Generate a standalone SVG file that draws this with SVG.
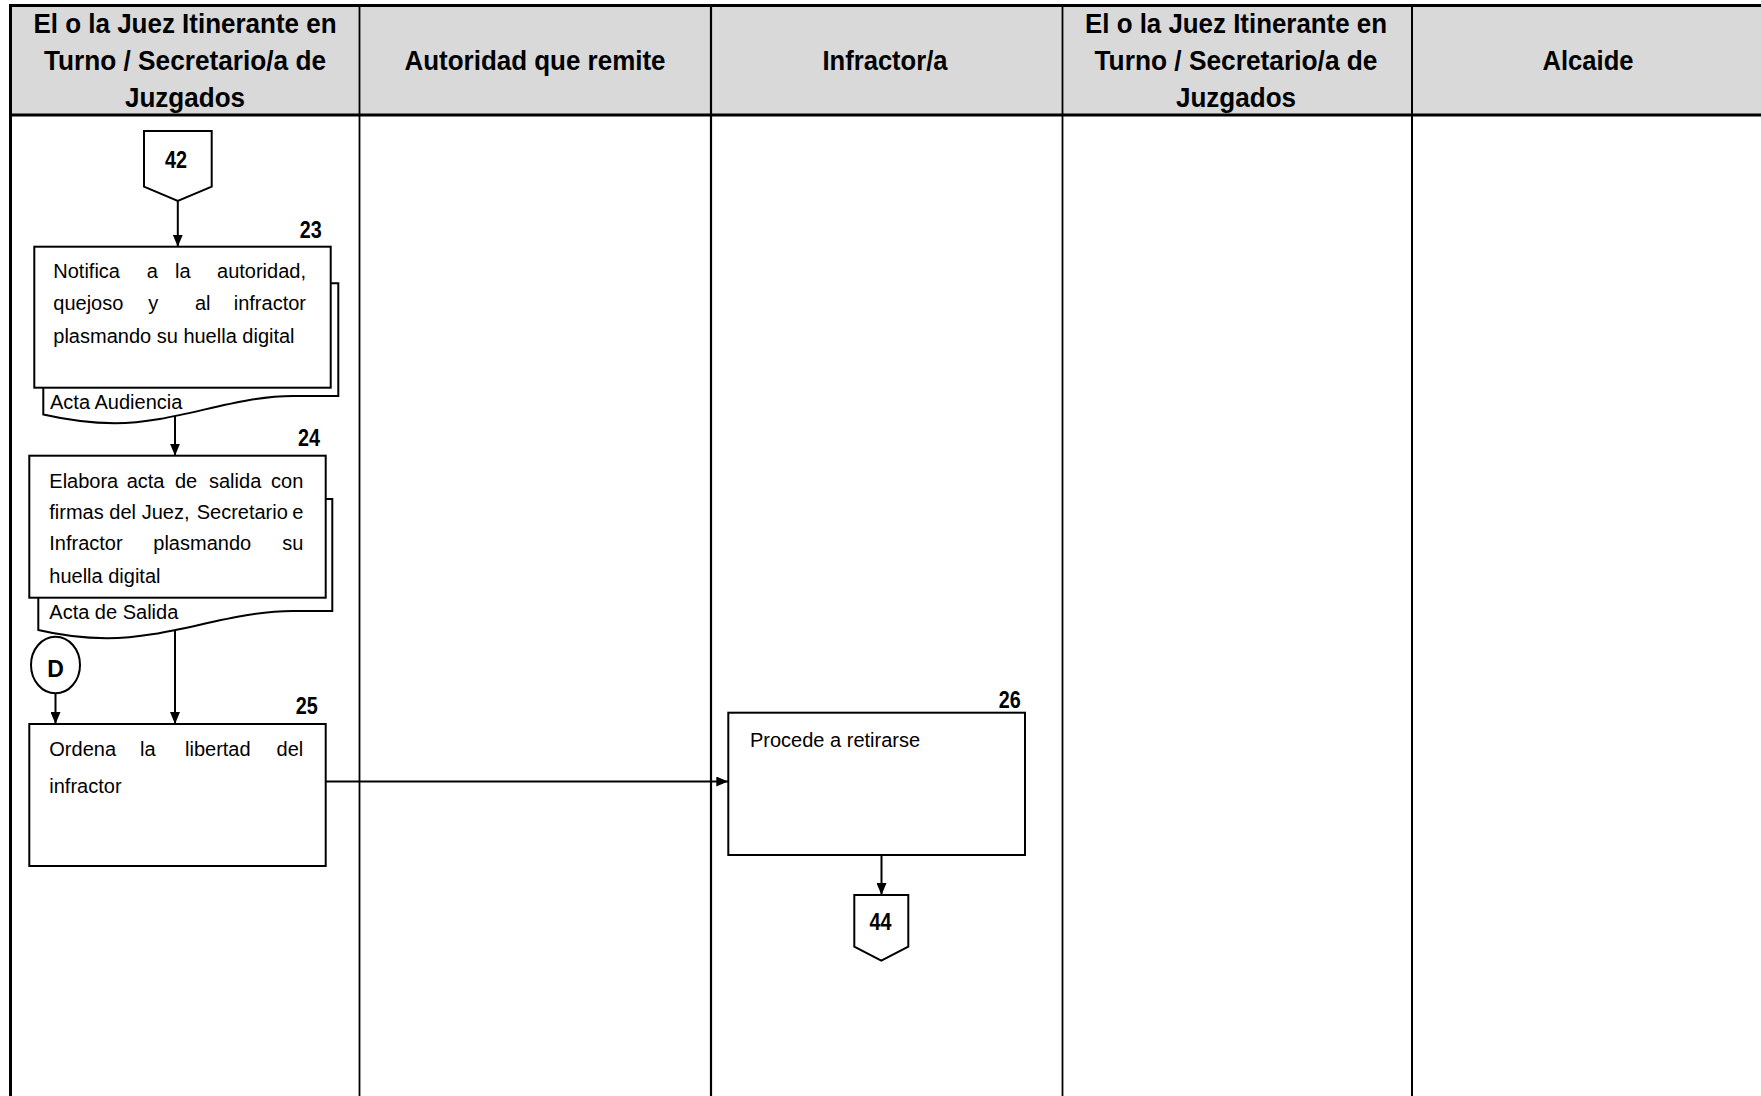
<svg xmlns="http://www.w3.org/2000/svg" width="1761" height="1096" viewBox="0 0 1761 1096">
<style>
.hd{font-family:"Liberation Sans",Arial,sans-serif;font-weight:bold;font-size:28px;fill:#000;text-anchor:middle}
.tx{font-family:"Liberation Sans",Arial,sans-serif;font-size:20px;fill:#000}
.num{font-family:"Liberation Sans",Arial,sans-serif;font-weight:bold;font-size:23px;fill:#000}
.box{fill:#fff;stroke:#000;stroke-width:2}
.lane{stroke:#000;fill:none}
.cn{stroke:#000;stroke-width:2;fill:none;marker-end:url(#ah)}
</style>
<defs>
<marker id="ah" markerUnits="userSpaceOnUse" markerWidth="12" markerHeight="10" refX="12" refY="5" orient="auto">
<path d="M0,0 L12,5 L0,10 Z" fill="#000"/>
</marker>
</defs>
<rect x="0" y="0" width="1761" height="1096" fill="#fff"/>
<g id="lanes">
<rect x="10.5" y="5.5" width="1760" height="109.5" fill="#d9d9d9"/>
<line class="lane" x1="9" y1="5.5" x2="1766" y2="5.5" stroke-width="3"/>
<line class="lane" x1="9" y1="115" x2="1766" y2="115" stroke-width="3"/>
<line class="lane" x1="10.5" y1="4" x2="10.5" y2="1096" stroke-width="3"/>
<line class="lane" x1="359.5" y1="5.5" x2="359.5" y2="1096" stroke-width="1.8"/>
<line class="lane" x1="711" y1="5.5" x2="711" y2="1096" stroke-width="2.2"/>
<line class="lane" x1="1062.5" y1="5.5" x2="1062.5" y2="1096" stroke-width="1.8"/>
<line class="lane" x1="1412" y1="5.5" x2="1412" y2="1096" stroke-width="2"/>
<text class="hd" x="185" y="32.5" textLength="303" lengthAdjust="spacingAndGlyphs">El o la Juez Itinerante en</text>
<text class="hd" x="185" y="70" textLength="282" lengthAdjust="spacingAndGlyphs">Turno / Secretario/a de</text>
<text class="hd" x="185" y="106.5" textLength="120" lengthAdjust="spacingAndGlyphs">Juzgados</text>
<text class="hd" x="535" y="70" textLength="261" lengthAdjust="spacingAndGlyphs">Autoridad que remite</text>
<text class="hd" x="885" y="70" textLength="125" lengthAdjust="spacingAndGlyphs">Infractor/a</text>
<text class="hd" x="1236" y="32.5" textLength="302" lengthAdjust="spacingAndGlyphs">El o la Juez Itinerante en</text>
<text class="hd" x="1236" y="70" textLength="283" lengthAdjust="spacingAndGlyphs">Turno / Secretario/a de</text>
<text class="hd" x="1236" y="106.5" textLength="120" lengthAdjust="spacingAndGlyphs">Juzgados</text>
<text class="hd" x="1588" y="70" textLength="91" lengthAdjust="spacingAndGlyphs">Alcaide</text>
</g>
<g id="connectors">
<line class="cn" x1="177.8" y1="201" x2="177.8" y2="246.7"/>
<line class="cn" x1="175" y1="410" x2="175" y2="455.7"/>
<line class="cn" x1="175" y1="622" x2="175" y2="724"/>
<line class="cn" x1="55.5" y1="693.3" x2="55.5" y2="724"/>
<line class="cn" x1="325.7" y1="781.5" x2="728.3" y2="781.5"/>
<line class="cn" x1="881.5" y1="855" x2="881.5" y2="895"/>
</g>
<g id="n42">
<polygon class="box" points="144,131 211.7,131 211.7,186.7 177.8,201 144,186.7"/>
<text class="num" x="176" y="167.5" text-anchor="middle" textLength="22" lengthAdjust="spacingAndGlyphs">42</text>
</g>
<g id="n23">
<path class="box" d="M43.3,283.3 H338.3 V396 H293 C 233,396 175,423.3 115,423.3 C 88,423 63,419 43.3,414.5 Z"/>
<rect class="box" x="34.3" y="246.7" width="296.4" height="141"/>
<text class="num" x="321.7" y="237.5" text-anchor="end" textLength="22" lengthAdjust="spacingAndGlyphs">23</text>
<text class="tx" y="278"><tspan x="53.3">Notifica</tspan><tspan x="146.7">a</tspan><tspan x="175">la</tspan><tspan x="306" text-anchor="end">autoridad,</tspan></text>
<text class="tx" y="310"><tspan x="53.3">quejoso</tspan><tspan x="148.3">y</tspan><tspan x="195">al</tspan><tspan x="306" text-anchor="end">infractor</tspan></text>
<text class="tx" x="53.3" y="343">plasmando su huella digital</text>
<text class="tx" x="50" y="408.5">Acta Audiencia</text>
</g>
<g id="n24">
<path class="box" d="M38.3,499 H332.3 V611 H293 C 230,611 170,638.3 107,638.3 C 80,638 55,634 38.3,630 Z"/>
<rect class="box" x="29.3" y="455.7" width="296.4" height="142"/>
<text class="num" x="320" y="446" text-anchor="end" textLength="22" lengthAdjust="spacingAndGlyphs">24</text>
<text class="tx" y="488"><tspan x="49.3">Elabora</tspan><tspan x="126.7">acta</tspan><tspan x="175">de</tspan><tspan x="209">salida</tspan><tspan x="303.3" text-anchor="end">con</tspan></text>
<text class="tx" y="519"><tspan x="49.3">firmas</tspan><tspan x="109.3">del</tspan><tspan x="141.7">Juez,</tspan><tspan x="196.7">Secretario</tspan><tspan x="303.3" text-anchor="end">e</tspan></text>
<text class="tx" y="549.5"><tspan x="49.3">Infractor</tspan><tspan x="153.3">plasmando</tspan><tspan x="303.3" text-anchor="end">su</tspan></text>
<text class="tx" x="49.3" y="583">huella digital</text>
<text class="tx" x="49.3" y="619.3">Acta de Salida</text>
</g>
<g id="nD">
<ellipse class="box" cx="55.5" cy="665" rx="24.5" ry="28.3"/>
<text class="num" x="55.5" y="677" text-anchor="middle">D</text>
</g>
<g id="n25">
<rect class="box" x="29.3" y="724" width="296.4" height="142"/>
<text class="num" x="317.7" y="714" text-anchor="end" textLength="22" lengthAdjust="spacingAndGlyphs">25</text>
<text class="tx" y="756"><tspan x="49.3">Ordena</tspan><tspan x="140">la</tspan><tspan x="185">libertad</tspan><tspan x="303.3" text-anchor="end">del</tspan></text>
<text class="tx" x="49.3" y="793.3">infractor</text>
</g>
<g id="n26">
<rect class="box" x="728.3" y="712.7" width="296.7" height="142.3"/>
<text class="num" x="1020.7" y="707.5" text-anchor="end" textLength="22" lengthAdjust="spacingAndGlyphs">26</text>
<text class="tx" x="750" y="747.3">Procede a retirarse</text>
</g>
<g id="n44">
<polygon class="box" points="854.3,895 908.3,895 908.3,946.7 881.3,960.7 854.3,946.7"/>
<text class="num" x="880.5" y="930" text-anchor="middle" textLength="22" lengthAdjust="spacingAndGlyphs">44</text>
</g>
</svg>
